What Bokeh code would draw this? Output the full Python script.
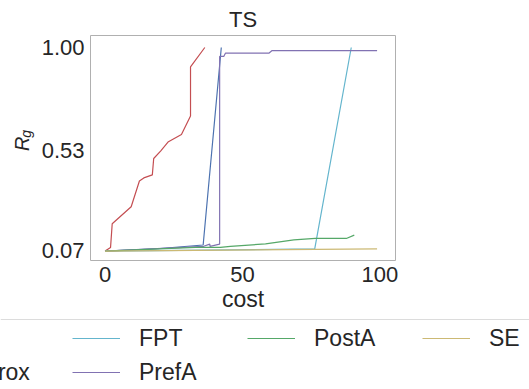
from bokeh.plotting import figure
from bokeh.models import Legend, LegendItem, FixedTicker, Label, Range1d, NumeralTickFormatter, Span
from bokeh.layouts import column, row
from bokeh.embed import file_html
from bokeh.resources import INLINE

# ---- data ----
opt_x = [0, 2.0, 2.6, 9.5, 12.5, 14.1, 17.2, 17.7, 20.2, 22.9, 27.8, 31.1, 31.1, 36.3]
opt_y = [0.068, 0.085, 0.193, 0.271, 0.389, 0.403, 0.417, 0.492, 0.526, 0.567, 0.602, 0.686, 0.911, 1.0]

approx_x = [0, 20, 35.7, 42.3]
approx_y = [0.068, 0.080, 0.096, 1.0]

fpt_x = [0, 76.3, 89.6]
fpt_y = [0.068, 0.078, 1.0]

prefa_x = [0, 35.9, 38.1, 38.2, 41.7, 41.7, 43.2, 43.8, 59.6, 60.8, 99.0]
prefa_y = [0.068, 0.090, 0.100, 0.090, 0.100, 0.959, 0.959, 0.974, 0.974, 0.986, 0.986]

posta_x = [0, 32.9, 42.0, 45.6, 58.4, 68.7, 76.5, 87.8, 90.7]
posta_y = [0.068, 0.085, 0.085, 0.090, 0.101, 0.119, 0.126, 0.126, 0.141]

se_x = [0, 99.0]
se_y = [0.068, 0.078]

legend_col0 = ["Opt", "Approx"]
legend_rest = ["FPT", "PostA", "SE", "PrefA"]
x_ticks = [0, 50, 100]
y_ticks = [0.07, 0.53, 1.00]

TXT = "#262626"
FONT = "Liberation Sans"
LW = 1.2
COLORS = {"Opt": "#C44E52", "Approx": "#4C72B0", "FPT": "#64B5CD",
          "PrefA": "#8172B2", "PostA": "#55A868", "SE": "#CCB974"}
data = {
    "Opt": (opt_x, opt_y),
    "Approx": (approx_x, approx_y),
    "FPT": (fpt_x, fpt_y),
    "PrefA": (prefa_x, prefa_y),
    "PostA": (posta_x, posta_y),
    "SE": (se_x, se_y),
}

MAIN_H = 316
STRIP_W = 36

# ---------------- y-axis label strip ----------------
ylab = figure(width=STRIP_W, height=MAIN_H, output_backend="svg", toolbar_location=None,
              x_axis_type=None, y_axis_type=None,
              x_range=Range1d(0, STRIP_W), y_range=Range1d(0, MAIN_H),
              min_border=0, min_border_left=0, min_border_right=0,
              min_border_top=0, min_border_bottom=0)
ylab.outline_line_color = None
ylab.grid.visible = False
ylab.add_layout(Label(x=21, y=MAIN_H - 152, text="R", angle=1.5708, text_font=FONT,
                      text_font_size="20px", text_font_style="italic", text_color=TXT,
                      text_align="center", text_baseline="alphabetic"))
ylab.add_layout(Label(x=25.5, y=MAIN_H - 138, text="g", angle=1.5708, text_font=FONT,
                      text_font_size="14px", text_font_style="italic", text_color=TXT,
                      text_align="center", text_baseline="alphabetic"))

# ---------------- main plot ----------------
p = figure(width=529 - STRIP_W, height=MAIN_H, output_backend="svg", toolbar_location=None,
           x_range=Range1d(-5.3, 105.7), y_range=Range1d(0.025, 1.055),
           min_border_left=90 - STRIP_W, min_border_right=134, min_border_top=34,
           min_border_bottom=MAIN_H - 260)

p.title.text = "TS"
p.title.align = "center"
p.title.text_font = FONT
p.title.text_font_size = "22px"
p.title.text_font_style = "normal"
p.title.text_color = TXT
p.title.standoff = 8

p.outline_line_color = "#b0b0b0"
p.outline_line_width = 1
p.grid.visible = False

for ax in (p.xaxis[0], p.yaxis[0]):
    ax.axis_line_color = None
    ax.major_tick_line_color = None
    ax.minor_tick_line_color = None
    ax.major_tick_out = 0
    ax.major_tick_in = 0
    ax.major_label_text_font = FONT
    ax.major_label_text_font_size = "22px"
    ax.major_label_text_color = TXT
    ax.axis_label_text_font = FONT
    ax.axis_label_text_font_size = "23px"
    ax.axis_label_text_color = TXT
    ax.axis_label_text_font_style = "normal"

p.xaxis.ticker = FixedTicker(ticks=x_ticks)
p.yaxis.ticker = FixedTicker(ticks=y_ticks)
p.yaxis.formatter = NumeralTickFormatter(format="0.00")
p.xaxis.major_label_standoff = 6
p.yaxis.major_label_standoff = 6
p.xaxis.axis_label = "cost"
p.xaxis.axis_label_standoff = 1

for name, (xs, ys) in data.items():
    p.line(xs, ys, line_color=COLORS[name], line_width=LW)

# ---------------- legend strip ----------------
LEG_H = 389 - MAIN_H
lf = figure(width=529, height=LEG_H, output_backend="svg", toolbar_location=None,
            x_axis_type=None, y_axis_type=None,
            x_range=Range1d(-1000, -999), y_range=Range1d(0, LEG_H),
            min_border=0, min_border_left=0, min_border_right=0,
            min_border_top=0, min_border_bottom=0)
lf.outline_line_color = None
lf.grid.visible = False
lf.add_layout(Span(location=LEG_H - 3, dimension="width", line_color="#dcdcdc", line_width=1))

proxies = {}
for name, (xs, ys) in data.items():
    proxies[name] = lf.line(xs, ys, line_color=COLORS[name], line_width=LW)

common = dict(glyph_width=48, glyph_height=34, label_standoff=19, label_width=108,
              label_height=34, spacing=0, padding=0, margin=0,
              label_text_font=FONT, label_text_font_size="23px", label_text_color=TXT,
              border_line_color=None, background_fill_alpha=0.0)

leg0 = Legend(items=[LegendItem(label=n, renderers=[proxies[n]]) for n in legend_col0],
              orientation="vertical", location=(-110, 0), **common)
leg1 = Legend(items=[LegendItem(label=n, renderers=[proxies[n]]) for n in legend_rest],
              orientation="horizontal", ncols=3, location=(72, 0), **common)
lf.add_layout(leg0, "center")
lf.add_layout(leg1, "center")

layout = column(row(ylab, p, spacing=0), lf, spacing=0)
open("out.html", "w").write(file_html(layout, INLINE))
